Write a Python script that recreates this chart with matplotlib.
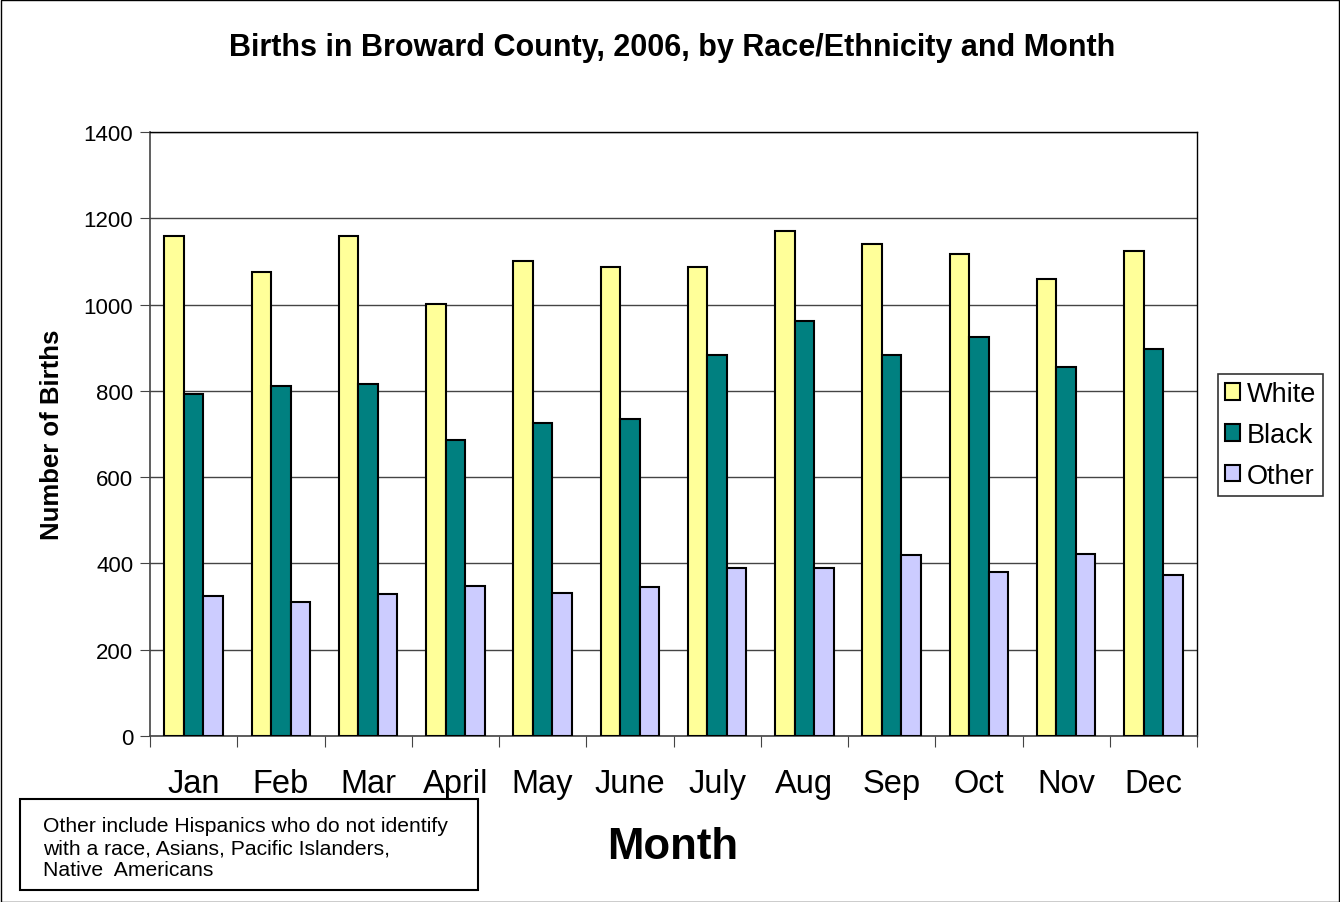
import matplotlib
matplotlib.use("Agg")
import matplotlib.pyplot as plt
import numpy as np
from matplotlib.patches import Rectangle

months = ["Jan", "Feb", "Mar", "April", "May", "June", "July", "Aug", "Sep", "Oct", "Nov", "Dec"]
white = [1160, 1076, 1160, 1001, 1101, 1087, 1087, 1171, 1140, 1118, 1059, 1124]
black = [793, 811, 816, 686, 726, 735, 883, 962, 883, 925, 855, 897]
other = [325, 311, 328, 348, 331, 346, 389, 390, 420, 380, 421, 373]
yticks = [0, 200, 400, 600, 800, 1000, 1200, 1400]

plt.rcParams['font.family'] = ['Liberation Sans', 'DejaVu Sans']

fig = plt.figure(figsize=(13.4, 9.03), dpi=100)
ax = fig.add_axes([150/1340, 1-737/903, (1197-150)/1340, (737-133)/903])

x = np.arange(len(months))
w = 0.223
kw = dict(edgecolor='black', linewidth=1.5, zorder=3)
ax.bar(x - w, white, w, color='#FFFF99', label='White', **kw)
ax.bar(x, black, w, color='#008080', label='Black', **kw)
ax.bar(x + w, other, w, color='#CCCCFF', label='Other', **kw)

ax.set_xlim(-0.5, len(months) - 0.5)
ax.set_ylim(0, 1400)
ax.set_yticks(yticks)
ax.yaxis.grid(True, color='#444444', linewidth=1, zorder=0)
ax.tick_params(axis='y', direction='out', length=7, labelsize=16, pad=5, color='#444444')

ax.set_xticks(np.arange(-0.5, len(months), 1.0))
ax.set_xticklabels([])
ax.tick_params(axis='x', which='major', direction='out', length=8, color='#444444')
ax.set_xticks(x, minor=True)
ax.set_xticklabels(months, minor=True, fontsize=23.5)
ax.tick_params(axis='x', which='minor', length=0, pad=23)

for s in ['top', 'right']:
    ax.spines[s].set_color('black')
    ax.spines[s].set_linewidth(1)
for s in ['left', 'bottom']:
    ax.spines[s].set_color('#444444')
    ax.spines[s].set_linewidth(1.2)

ax.set_ylabel('Number of Births', fontsize=18.5, fontweight='bold')
ax.yaxis.set_label_coords(-0.082, 0.5)

fig.text(672/1340, 1-48/903, 'Births in Broward County, 2006, by Race/Ethnicity and Month',
         ha='center', va='center', fontsize=22, fontweight='bold')
fig.text(673/1340, 1-848/903, 'Month', ha='center', va='center', fontsize=31.5, fontweight='bold')

leg = ax.legend(loc='center left', bbox_to_anchor=(1218/1340, 1-436/903),
                bbox_transform=fig.transFigure, fontsize=19.5, frameon=True, fancybox=False,
                edgecolor='black', handlelength=0.55, handleheight=0.55, handletextpad=0.25,
                borderpad=0.25, labelspacing=0.55, borderaxespad=0)
leg.get_frame().set_linewidth(1.2)

# footnote box
fig.patches.append(Rectangle((20/1340, 1-891/903), 458/1340, 91/903, transform=fig.transFigure,
                             fill=False, edgecolor='black', linewidth=1.5))
fig.text(43/1340, 1-849/903,
         'Other include Hispanics who do not identify\nwith a race, Asians, Pacific Islanders,\nNative  Americans',
         ha='left', va='center', fontsize=15.2, linespacing=1.2)

# outer frame
fig.patches.append(Rectangle((0.5/1340, 0.5/903), 1338/1340, 902/903, transform=fig.transFigure,
                             fill=False, edgecolor='black', linewidth=1))

fig.savefig('out.png', dpi=100)
